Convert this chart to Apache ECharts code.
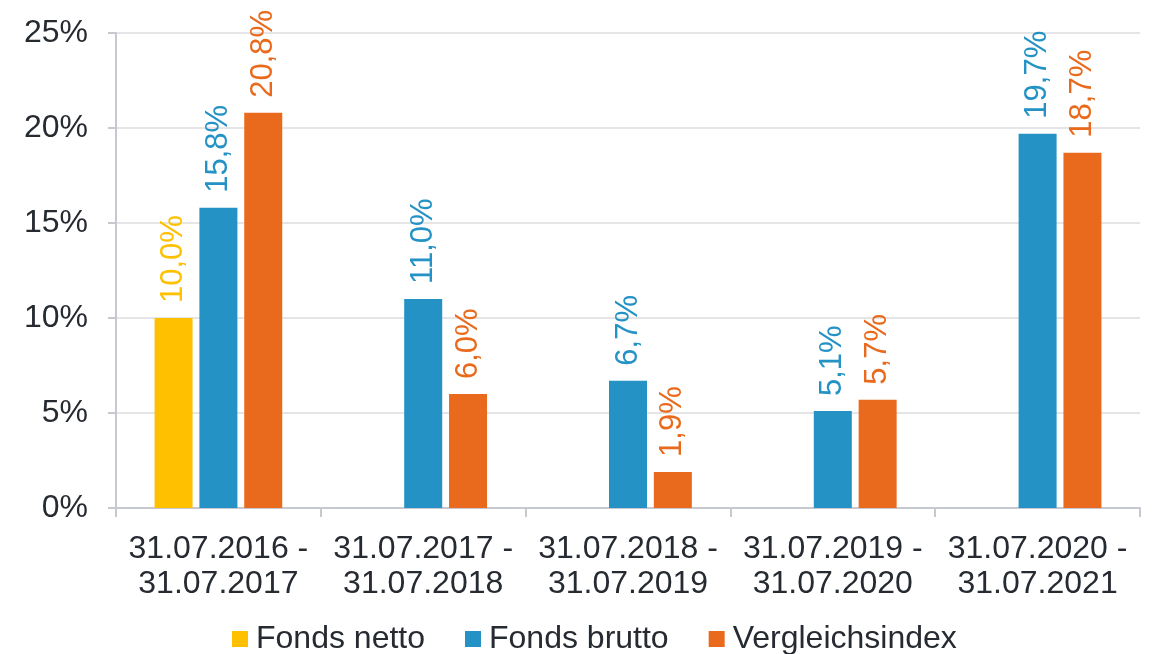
<!DOCTYPE html>
<html><head><meta charset="utf-8">
<script src="https://cdn.jsdelivr.net/npm/echarts@6/dist/echarts.min.js"></script>
<style>html,body{margin:0;padding:0;background:#fff}#c{width:1157px;height:654px}</style>
</head><body><div id="c"></div>
<script>
const categories = ['31.07.2016 -\n31.07.2017','31.07.2017 -\n31.07.2018','31.07.2018 -\n31.07.2019','31.07.2019 -\n31.07.2020','31.07.2020 -\n31.07.2021'];
const fondsNetto = [10.0, null, null, null, null];
const fondsBrutto = [15.8, 11.0, 6.7, 5.1, 19.7];
const vergleichsindex = [20.8, 6.0, 1.9, 5.7, 18.7];
const yTicks = [0, 5, 10, 15, 20, 25];

const font = 'Liberation Sans, Arial, sans-serif';
const txt = '#262a31';
function fmt(p){ return p.value == null ? '' : p.value.toFixed(1).replace('.', ',') + '%'; }
function mk(name, data, color){
  return {
    name, type:'bar', data, barWidth:38, barGap:'18%',
    itemStyle:{color},
    label:{show:true, position:'top', rotate:90, align:'left', verticalAlign:'middle', distance:15,
      formatter:fmt, color, fontSize:31, fontFamily:font}
  };
}
const chart = echarts.init(document.getElementById('c'));
chart.setOption({
  animation:false,
  grid:{left:116, right:17, top:33, bottom:146},
  legend:{top:618, left:227, itemWidth:16, itemHeight:16, itemGap:40, icon:'rect',
    textStyle:{fontSize:32, fontFamily:font, color:txt, padding:[0,0,0,3]},
    data:['Fonds netto','Fonds brutto','Vergleichsindex']},
  xAxis:{type:'category', data:categories,
    axisLine:{lineStyle:{color:'#c6cad0', width:2}},
    axisTick:{show:true, interval:0, length:9, lineStyle:{color:'#c6cad0', width:2}},
    axisLabel:{interval:0, fontSize:32, fontFamily:font, color:txt, lineHeight:35, margin:24}},
  yAxis:{type:'value', min:yTicks[0], max:yTicks[yTicks.length-1], interval:5,
    axisLine:{show:true, lineStyle:{color:'#c6cad0', width:2}},
    axisTick:{show:true, length:8, lineStyle:{color:'#c6cad0', width:2}},
    splitLine:{lineStyle:{color:'#dcdde1', width:1.5}},
    axisLabel:{fontSize:32, fontFamily:font, color:txt, margin:28, formatter:v=>v+'%'}},
  series:[
    mk('Fonds netto', fondsNetto, '#ffc000'),
    mk('Fonds brutto', fondsBrutto, '#2492c5'),
    mk('Vergleichsindex', vergleichsindex, '#e96a1c')
  ]
});
</script></body></html>
